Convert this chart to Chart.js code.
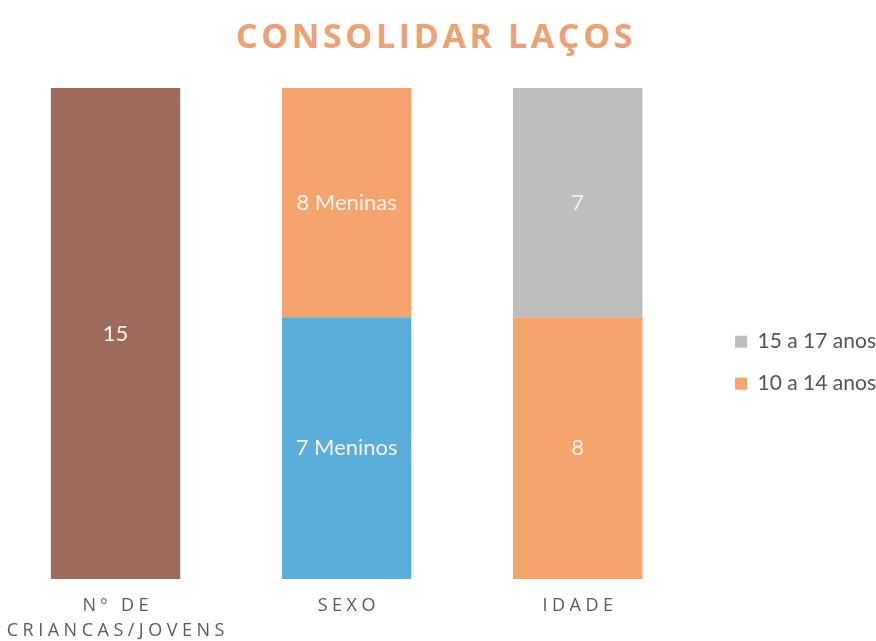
<!DOCTYPE html>
<html>
<head>
<meta charset="utf-8">
<script src="https://cdn.jsdelivr.net/npm/chart.js@4.4.0/dist/chart.umd.min.js"></script>
<style>
    html, body { margin: 0; padding: 0; background: #fff; }
    #wrap { position: relative; width: 876px; height: 641px; }
    #title {
        position: absolute; top: 12px; left: 0; width: 872px;
        text-align: center;
        font-family: 'Open Sans', sans-serif; font-weight: 700;
        font-size: 34px; letter-spacing: 3.6px;
        color: #EBA274;
    }
    canvas { position: absolute; left: 0; top: 0; }
</style>
</head>
<body>
<div id="wrap">
    <div id="title">CONSOLIDAR LAÇOS</div>
    <canvas id="chart" width="876" height="641"></canvas>
</div>
<script>
// Categories (x-axis), split over lines
const categories = [['Nº DE', 'CRIANCAS/JOVENS'], ['SEXO'], ['IDADE']];

// Segment values as drawn (bottom to top in each column)
const totalValues   = [15, null, null];
const meninosValues = [null, 8, null];
const meninasValues = [null, 7, null];
const age1014Values = [null, null, 8];
const age1517Values = [null, null, 7];

// Text printed inside each segment
const totalLabels   = ['15', null, null];
const meninosLabels = [null, '7 Meninos', null];
const meninasLabels = [null, '8 Meninas', null];
const age1014Labels = [null, null, '8'];
const age1517Labels = [null, null, '7'];

const colors = {
    brown: '#9C6B5D',
    blue: '#5BAED8',
    orange: '#F5A46D',
    gray: '#BEBEBE',
    axisText: '#5a5a5a',
    legendText: '#555555',
    barText: '#F6F1EC'
};

// one column per category index
const toPoints = values => values.map((v, i) => ({ x: i, y: v }));

// Draw the text centred in every segment
const segmentLabels = {
    id: 'segmentLabels',
    afterDatasetsDraw(chart) {
        const ctx = chart.ctx;
        ctx.save();
        ctx.font = '22px Lato, sans-serif';
        ctx.fillStyle = colors.barText;
        ctx.textAlign = 'center';
        ctx.textBaseline = 'middle';
        chart.data.datasets.forEach((ds, i) => {
            const meta = chart.getDatasetMeta(i);
            meta.data.forEach((bar, j) => {
                const txt = ds.segmentText[j];
                if (txt == null) return;
                ctx.fillText(txt, bar.x, (bar.y + bar.base) / 2);
            });
        });
        ctx.restore();
    }
};

// Letter-spaced category labels under the bars
const spacedTicks = {
    id: 'spacedTicks',
    afterDraw(chart) {
        const ctx = chart.ctx;
        const xScale = chart.scales.x;
        const spacing = 4.5;
        ctx.save();
        ctx.font = '18px "Open Sans", sans-serif';
        ctx.fillStyle = colors.axisText;
        ctx.textAlign = 'center';
        ctx.textBaseline = 'middle';
        ctx.letterSpacing = spacing + 'px';
        categories.forEach((lines, i) => {
            const x = xScale.getPixelForValue(i) + spacing / 2;
            lines.forEach((line, k) => {
                ctx.fillText(line, x, chart.chartArea.bottom + 27 + k * 25);
            });
        });
        ctx.restore();
    }
};

new Chart(document.getElementById('chart'), {
    type: 'bar',
    data: {
        datasets: [
            { label: 'Total', data: toPoints(totalValues), backgroundColor: colors.brown, segmentText: totalLabels, inLegend: false },
            { label: 'Meninos', data: toPoints(meninosValues), backgroundColor: colors.blue, segmentText: meninosLabels, inLegend: false },
            { label: 'Meninas', data: toPoints(meninasValues), backgroundColor: colors.orange, segmentText: meninasLabels, inLegend: false },
            { label: '10 a 14 anos', data: toPoints(age1014Values), backgroundColor: colors.orange, segmentText: age1014Labels, inLegend: true },
            { label: '15 a 17 anos', data: toPoints(age1517Values), backgroundColor: colors.gray, segmentText: age1517Labels, inLegend: true }
        ]
    },
    options: {
        responsive: false,
        animation: false,
        layout: { padding: { top: 88, bottom: 62, left: 0, right: -10 } },
        datasets: {
            bar: { categoryPercentage: 1, barPercentage: 0.56, borderWidth: 0 }
        },
        scales: {
            // max past 2.5 leaves empty room between the last column and the legend
            x: {
                type: 'linear', stacked: true, display: false, offset: false,
                min: -0.5, max: 2.59,
                ticks: { stepSize: 1, includeBounds: false }
            },
            y: { stacked: true, display: false, min: 0, max: 15 }
        },
        plugins: {
            title: { display: false },
            tooltip: { enabled: false },
            legend: {
                position: 'right',
                reverse: true,
                // blank title just pushes the two entries a little lower
                title: { display: true, text: ' ', font: { size: 12 }, padding: { top: 22, bottom: 22 } },
                labels: {
                    filter: (item, data) => data.datasets[item.datasetIndex].inLegend,
                    boxWidth: 12,
                    boxHeight: 12,
                    padding: 21,
                    color: colors.legendText,
                    font: { family: 'Lato, sans-serif', size: 21 }
                }
            }
        }
    },
    plugins: [segmentLabels, spacedTicks]
});
</script>
</body>
</html>
